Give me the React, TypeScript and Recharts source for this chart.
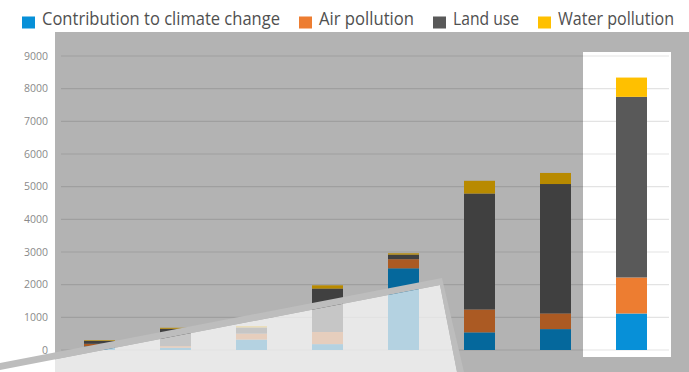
import React from 'react';
import { BarChart, Bar, XAxis, YAxis, CartesianGrid, Cell } from 'recharts';

const categories = ['1', '2', '3', '4', '5', '6', '7', '8'];
const climateChange = [110, 70, 320, 180, 2500, 540, 640, 1120];
const airPollution = [80, 50, 180, 370, 280, 700, 480, 1100];
const landUse = [90, 530, 190, 1330, 140, 3550, 3960, 5530];
const waterPollution = [20, 30, 40, 100, 40, 390, 340, 590];

const seriesKeys = ['climate', 'air', 'land', 'water'];
const seriesNames = ['Contribution to climate change', 'Air pollution', 'Land use', 'Water pollution'];
const seriesColors = ['#0790D8', '#ED7D31', '#595959', '#FFC000'];
const yTicks = [0, 1000, 2000, 3000, 4000, 5000, 6000, 7000, 8000, 9000];
const highlightIndex = 7;

const data = categories.map((c, i) => ({
  name: c,
  climate: climateChange[i],
  air: airPollution[i],
  land: landUse[i],
  water: waterPollution[i],
}));

const W = 689;
const H = 372;
const MARGIN = { top: 56, right: 20, bottom: 22, left: 0 };
const Y_AXIS_W = 61;
const PLOT_LEFT = MARGIN.left + Y_AXIS_W;
const PLOT_RIGHT = W - MARGIN.right;
const BAND = (PLOT_RIGHT - PLOT_LEFT) / categories.length;

function dim(hex: string, f: number) {
  const n = parseInt(hex.slice(1), 16);
  const r = Math.round(((n >> 16) & 255) * f);
  const g = Math.round(((n >> 8) & 255) * f);
  const b = Math.round((n & 255) * f);
  return `rgb(${r},${g},${b})`;
}

const FONT = '"Open Sans", "DejaVu Sans", sans-serif';
const legendTextWidths = [238, 95, 66, 116];

function Legend() {
  let x = 22;
  const items: React.ReactNode[] = [];
  seriesNames.forEach((name, i) => {
    const sx = x;
    items.push(
      <g key={name}>
        <rect x={sx} y={16.5} width={13} height={12} fill={seriesColors[i]} />
        <text
          x={sx + 20}
          y={25}
          fontSize={18}
          fill="#505050"
          fontFamily={FONT}
          textLength={legendTextWidths[i]}
          lengthAdjust="spacingAndGlyphs"
        >
          {name}
        </text>
      </g>
    );
    x = sx + 20 + legendTextWidths[i] + 19;
  });
  return <g>{items}</g>;
}

export default function App() {
  const hlLeft = PLOT_LEFT + BAND * highlightIndex - 10;
  return (
    <div
      style={{
        position: 'absolute',
        left: 0,
        top: 0,
        width: W,
        height: H,
        background: '#fff',
        overflow: 'hidden',
        fontFamily: FONT,
      }}
    >
      <div style={{ position: 'absolute', left: 55, top: 32, width: W - 55, height: H - 32, background: '#B3B3B3' }} />
      <div
        style={{
          position: 'absolute',
          left: hlLeft,
          top: 52,
          width: BAND + 12,
          height: 305,
          background: '#fff',
        }}
      />
      <div style={{ position: 'absolute', left: 0, top: 0 }}>
        <BarChart width={W} height={H} data={data} margin={MARGIN} barSize={31}>
          <CartesianGrid vertical={false} stroke="rgba(0,0,0,0.11)" strokeWidth={1.2} />
          <XAxis dataKey="name" hide />
          <YAxis
            width={Y_AXIS_W}
            domain={[0, 9000]}
            ticks={yTicks}
            axisLine={false}
            tickLine={false}
            tickSize={0}
            tickMargin={13}
            tick={{ fontSize: 10.5, fill: '#8A8A8A', fontFamily: FONT }}
          />
          {seriesKeys.map((k, si) => (
            <Bar key={k} dataKey={k} name={seriesNames[si]} stackId="a" isAnimationActive={false}>
              {data.map((d, i) => (
                <Cell key={i} fill={i === highlightIndex ? seriesColors[si] : dim(seriesColors[si], 0.72)} />
              ))}
            </Bar>
          ))}
        </BarChart>
      </div>
      <svg width={W} height={H} style={{ position: 'absolute', left: 0, top: 0, pointerEvents: 'none' }}>
        <polygon points="0,370 440,285 457,372 0,372" fill="rgba(255,255,255,0.7)" />
        <path
          d="M0,363 L442,278 L464,372 L457,372 L440,285 L0,370 Z"
          fill="#BDBDBD"
        />
        <Legend />
      </svg>
    </div>
  );
}
